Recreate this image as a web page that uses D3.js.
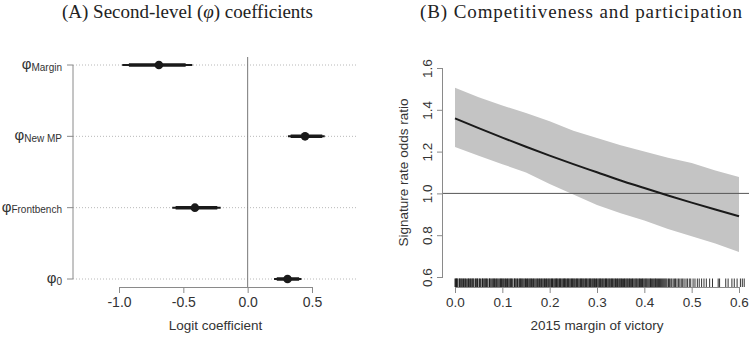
<!DOCTYPE html>
<html><head><meta charset="utf-8">
<script src="https://cdn.jsdelivr.net/npm/d3@7"></script>
<style>body{margin:0;background:#fff}svg{display:block}</style>
</head><body><svg id="c" width="749" height="338"></svg>
<script>
// ---- Panel A data ----
const coefLabels = ["Margin", "New MP", "Frontbench", "0"];
const coefMean = [-0.69, 0.446, -0.41, 0.31];
const ci95Lo = [-0.975, 0.313, -0.586, 0.205];
const ci95Hi = [-0.43, 0.599, -0.21, 0.418];
const ci80Lo = [-0.923, 0.334, -0.56, 0.226];
const ci80Hi = [-0.482, 0.58, -0.236, 0.40];
const xTicksA = [-1.0, -0.5, 0.0, 0.5];

// ---- Panel B data ----
const margin = [0, 0.05, 0.1, 0.15, 0.2, 0.25, 0.3, 0.35, 0.4, 0.45, 0.5, 0.55, 0.6];
const oddsMean = [1.359, 1.312, 1.267, 1.223, 1.181, 1.140, 1.101, 1.062, 1.026, 0.990, 0.956, 0.923, 0.891];
const oddsLo = [1.222, 1.18, 1.14, 1.10, 1.045, 0.995, 0.945, 0.905, 0.87, 0.83, 0.795, 0.76, 0.72];
const oddsHi = [1.505, 1.46, 1.42, 1.385, 1.345, 1.30, 1.265, 1.23, 1.20, 1.17, 1.145, 1.11, 1.078];
const xTicksB = [0.0, 0.1, 0.2, 0.3, 0.4, 0.5, 0.6];
const yTicksB = [0.6, 0.8, 1.0, 1.2, 1.4, 1.6];
// rug of observed margins (per-mille)
const rugPermille = [0,1,3,4,4,6,9,10,11,13,15,15,18,19,21,22,24,27,28,29,31,33,34,36,38,38,40,43,44,46,47,48,51,52,54,57,58,59,61,63,64,66,67,69,72,73,74,76,78,80,81,83,84,86,88,89,91,93,95,96,98,99,
101,102,104,106,107,109,111,112,114,116,117,119,120,122,125,126,127,129,131,132,135,136,138,139,141,142,144,146,148,149,151,153,154,156,158,159,161,162,164,166,167,169,171,173,174,176,178,179,181,183,184,186,188,189,191,193,194,196,198,199,
201,203,204,206,207,209,211,212,214,215,216,218,220,221,223,224,226,228,229,231,232,233,235,237,238,240,241,243,245,246,248,249,251,252,254,256,257,259,260,262,264,265,267,268,270,271,273,275,276,278,279,281,283,284,286,287,289,291,292,294,295,297,299,
300,302,304,305,307,308,310,312,313,315,317,318,320,321,323,325,326,328,330,331,333,334,336,338,339,341,343,344,346,348,349,351,352,354,356,358,359,361,363,364,366,368,369,371,373,375,376,378,380,382,383,385,387,389,390,392,394,396,397,399,
401,403,404,406,408,410,412,413,415,417,419,421,423,424,426,428,430,432,434,436,438,440,442,444,446,448,451,453,456,458,461,464,466,469,472,475,478,481,484,488,491,495,498,
503,507,512,516,521,526,531,538,544,556,559,572,577,585,590,596,603,607,611];

const svg = d3.select("#c");
const sans = "'Liberation Sans', Arial, sans-serif";
const serif = "'Liberation Serif', 'DejaVu Serif', serif";
const axisCol = "#8a8a8a", textCol = "#333";

// ================= Panel A =================
const xA = d3.scaleLinear().domain([-1, 0.5]).range([119, 312]);
const yA = d3.scalePoint().domain(coefLabels).range([65, 279]);
const gA = svg.append("g");

gA.append("text").attr("x", 187.5).attr("y", 18).attr("text-anchor", "middle")
  .attr("font-family", serif).attr("font-size", 19).attr("fill", "#222")
  .attr("textLength", 251).attr("lengthAdjust", "spacing")
  .html('(A) Second-level (<tspan font-style="italic">φ</tspan>) coefficients');

// dotted gridlines
gA.selectAll(".grid").data(coefLabels).join("line")
  .attr("x1", 73).attr("x2", xA(0.855)).attr("y1", d => yA(d)).attr("y2", d => yA(d))
  .attr("stroke", "#b8b8b8").attr("stroke-width", 1).attr("stroke-dasharray", "1,2");

// zero line
gA.append("line").attr("x1", xA(0)).attr("x2", xA(0)).attr("y1", 57).attr("y2", 287)
  .attr("stroke", "#777").attr("stroke-width", 1);

// y axis
gA.append("line").attr("x1", 73).attr("x2", 73).attr("y1", yA(coefLabels[0])).attr("y2", yA(coefLabels[3]))
  .attr("stroke", axisCol).attr("stroke-width", 1);
gA.selectAll(".ytk").data(coefLabels).join("line")
  .attr("x1", 67).attr("x2", 73).attr("y1", d => yA(d)).attr("y2", d => yA(d))
  .attr("stroke", axisCol);
const yl = gA.selectAll(".ylab").data(coefLabels).join("text")
  .attr("x", 62).attr("y", d => yA(d) + 4).attr("text-anchor", "end")
  .attr("font-family", sans).attr("fill", textCol);
yl.append("tspan").attr("font-size", 15).text("φ");
yl.append("tspan").attr("font-size", 10).attr("dy", 1.5).text(d => d);

// x axis
const axA = gA.append("g").attr("transform", "translate(0,287)")
  .call(d3.axisBottom(xA).tickValues(xTicksA).tickFormat(d3.format(".1f")).tickSize(6).tickPadding(4));
axA.select(".domain").attr("stroke", axisCol).attr("d", `M${xA(-1)},0.5H${xA(0.5)}`);
axA.selectAll(".tick line").attr("stroke", axisCol);
axA.selectAll(".tick text").attr("font-family", sans).attr("font-size", 14).attr("fill", textCol)
  .text(d => d < 0 ? "-" + Math.abs(d).toFixed(1) : d.toFixed(1));
gA.append("text").attr("x", xA(-0.25)).attr("y", 330).attr("text-anchor", "middle")
  .attr("font-family", sans).attr("font-size", 13.5).attr("fill", textCol).text("Logit coefficient");

// CIs and points
gA.selectAll(".ci95").data(coefLabels).join("line")
  .attr("x1", (d, i) => xA(ci95Lo[i])).attr("x2", (d, i) => xA(ci95Hi[i]))
  .attr("y1", d => yA(d)).attr("y2", d => yA(d)).attr("stroke", "#1a1a1a").attr("stroke-width", 2);
gA.selectAll(".ci80").data(coefLabels).join("line")
  .attr("x1", (d, i) => xA(ci80Lo[i])).attr("x2", (d, i) => xA(ci80Hi[i]))
  .attr("y1", d => yA(d)).attr("y2", d => yA(d)).attr("stroke", "#1a1a1a").attr("stroke-width", 3.5);
gA.selectAll(".pt").data(coefLabels).join("circle")
  .attr("cx", (d, i) => xA(coefMean[i])).attr("cy", d => yA(d)).attr("r", 4.3).attr("fill", "#1a1a1a");

// ================= Panel B =================
const xB = d3.scaleLinear().domain([0, 0.6]).range([455, 739]);
const yB = d3.scaleLinear().domain([0.6, 1.6]).range([277, 68]);
const gB = svg.append("g");

gB.append("text").attr("x", 581).attr("y", 18).attr("text-anchor", "middle")
  .attr("font-family", serif).attr("font-size", 19).attr("fill", "#222")
  .attr("textLength", 322).attr("lengthAdjust", "spacing")
  .text("(B) Competitiveness and participation");

const area = d3.area().x((d, i) => xB(margin[i])).y0((d, i) => yB(oddsLo[i])).y1((d, i) => yB(oddsHi[i]));
gB.append("path").datum(margin).attr("d", area).attr("fill", "#c4c4c4");

gB.append("line").attr("x1", 443).attr("x2", 749).attr("y1", yB(1)).attr("y2", yB(1))
  .attr("stroke", "#555").attr("stroke-width", 1);

const line = d3.line().x((d, i) => xB(margin[i])).y((d, i) => yB(oddsMean[i])).curve(d3.curveMonotoneX);
gB.append("path").datum(margin).attr("d", line).attr("fill", "none").attr("stroke", "#1a1a1a").attr("stroke-width", 2);

// rug
gB.selectAll(".rug").data(rugPermille).join("line")
  .attr("x1", d => xB(d / 1000)).attr("x2", d => xB(d / 1000))
  .attr("y1", 278.5).attr("y2", 287).attr("stroke", "#111").attr("stroke-width", 1).attr("stroke-opacity", 0.85);

// y axis
const ayB = gB.append("g").attr("transform", "translate(443,0)")
  .call(d3.axisLeft(yB).tickValues(yTicksB).tickFormat(d3.format(".1f")).tickSize(6).tickPadding(0));
ayB.select(".domain").attr("stroke", axisCol).attr("d", `M-0.5,${yB(0.6)}V${yB(1.6)}`);
ayB.selectAll(".tick line").attr("stroke", axisCol);
ayB.selectAll(".tick text").attr("font-family", sans).attr("font-size", 13.5).attr("fill", textCol)
  .attr("x", null).attr("dy", null).attr("text-anchor", "middle")
  .attr("transform", "translate(-11,0) rotate(-90)");
gB.append("text").attr("transform", `translate(408,${yB(1.1)}) rotate(-90)`).attr("text-anchor", "middle")
  .attr("font-family", sans).attr("font-size", 13.5).attr("fill", textCol).text("Signature rate odds ratio");

// x axis
const axB = gB.append("g").attr("transform", "translate(0,287)")
  .call(d3.axisBottom(xB).tickValues(xTicksB).tickFormat(d3.format(".1f")).tickSize(6).tickPadding(4));
axB.select(".domain").attr("stroke", axisCol).attr("d", `M${xB(0)},0.5H${xB(0.6)}`);
axB.selectAll(".tick line").attr("stroke", axisCol);
axB.selectAll(".tick text").attr("font-family", sans).attr("font-size", 13.5).attr("fill", textCol);
gB.append("text").attr("x", xB(0.3)).attr("y", 330).attr("text-anchor", "middle")
  .attr("font-family", sans).attr("font-size", 13.5).attr("fill", textCol).text("2015 margin of victory");
</script></body></html>
